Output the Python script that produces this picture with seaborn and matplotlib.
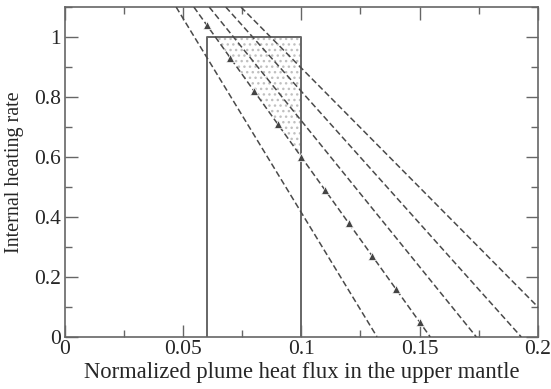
import matplotlib
matplotlib.use("Agg")
import matplotlib.pyplot as plt
import seaborn as sns
import numpy as np
import pandas as pd
from matplotlib.ticker import MultipleLocator, FuncFormatter

# ---- data ----
# dashed lines: x where each line crosses y=1.1 (top) and y=0 (bottom)
line_top_x = [0.047, 0.0545, 0.061, 0.068, 0.0744]
line_bot_x = [0.132, 0.1545, 0.174, 0.193, 0.2126]
line_top_y = 1.1
line_bot_y = 0.0

# triangle-marked series
tri_x = [0.06, 0.07, 0.08, 0.09, 0.10, 0.11, 0.12, 0.13, 0.14, 0.15]
tri_y = [1.04, 0.93, 0.82, 0.71, 0.60, 0.49, 0.38, 0.27, 0.16, 0.05]

# rectangle (box) outline
box_x = [0.06, 0.06, 0.10, 0.10]
box_y = [0.0, 1.0, 1.0, 0.0]

# shaded region vertices
shade_x = [0.0636, 0.10, 0.10]
shade_y = [1.0, 1.0, 0.6]

x_ticks = [0, 0.05, 0.1, 0.15, 0.2]
y_ticks = [0, 0.2, 0.4, 0.6, 0.8, 1.0]

sns.set_theme(style="ticks")
plt.rcParams['font.family'] = ['Liberation Serif', 'DejaVu Serif']
plt.rcParams['hatch.linewidth'] = 1.0

fig = plt.figure(figsize=(5.51, 3.89), dpi=100)
ax = fig.add_axes([0.118, 0.134, 0.858, 0.848])

# shaded region
ax.fill(shade_x, shade_y, facecolor='none', edgecolor='#c0c0c0', linewidth=0,
        hatch='...', zorder=1)

# box
sns.lineplot(x=box_x, y=box_y, sort=False, ax=ax, color='#666666', linewidth=1.4,
             estimator=None, zorder=2)

# dashed lines
for i, (xt, xb) in enumerate(zip(line_top_x, line_bot_x)):
    df = pd.DataFrame({'x': [xt, xb], 'y': [line_top_y, line_bot_y]})
    sns.lineplot(data=df, x='x', y='y', ax=ax, color='#4a4a4a', linewidth=1.1,
                 dashes=False, estimator=None, sort=False, zorder=3)
    ax.lines[-1].set_dashes((4, 2))

# triangles
sns.lineplot(x=tri_x, y=tri_y, ax=ax, marker='^', linestyle='none', color='#444444',
             markersize=5.5, markeredgewidth=0.5, estimator=None, zorder=4)

ax.set_xlim(0, 0.2)
ax.set_ylim(0, 1.1)
ax.set_xticks(x_ticks)
ax.set_yticks(y_ticks)
ax.xaxis.set_minor_locator(MultipleLocator(0.025))
ax.yaxis.set_minor_locator(MultipleLocator(0.1))
fmt = FuncFormatter(lambda v, p: f"{v:g}")
ax.xaxis.set_major_formatter(fmt)
ax.yaxis.set_major_formatter(fmt)

ax.tick_params(which='both', direction='in', top=True, right=True, color='#666666')
ax.tick_params(which='major', length=9, width=1.0, labelsize=15.5)
ax.tick_params(axis='x', which='major', pad=2)
ax.tick_params(axis='y', which='major', pad=3)
ax.tick_params(which='minor', length=5, width=1.0)
for s in ax.spines.values():
    s.set_color('#666666')
    s.set_linewidth(1.2)

ax.set_xlabel('Normalized plume heat flux in the upper mantle', fontsize=16.3)
ax.set_ylabel('Internal heating rate', fontsize=14.5)
ax.xaxis.set_label_coords(0.5, -0.075)
ax.yaxis.set_label_coords(-0.087, 0.5)

fig.savefig('out.png', dpi=100)
